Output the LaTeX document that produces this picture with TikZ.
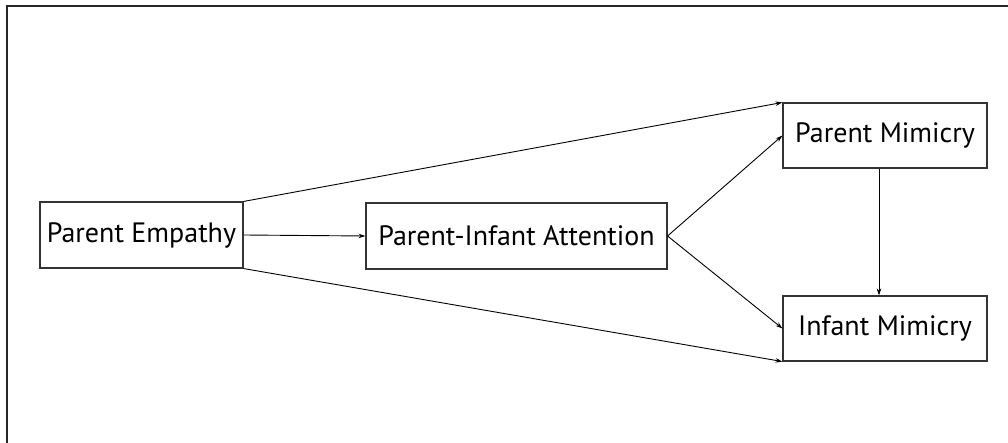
\documentclass[tikz,border=0pt]{standalone}
\usepackage{fontspec}
\setmainfont{PT Sans}
\usetikzlibrary{arrows.meta}
\begin{document}
\begin{tikzpicture}[x=1pt,y=-1pt,
  box/.style={draw=black!80, line width=1.1pt, rectangle, inner sep=0pt, font=\fontsize{28}{32}\selectfont},
  conn/.style={draw=black, line width=0.9pt, -{Stealth[length=7pt,width=4.5pt]}}]
\useasboundingbox (0,0) rectangle (1008,443);
\coordinate (tl) at (7,6);
\coordinate (tr) at (1008,6);
\coordinate (bl) at (7,443);
\draw[line width=1.5pt, black!85] (tr) -- (tl) -- (bl);
\node[box, minimum width=203pt, minimum height=66pt] (pe) at (141.5,235) {Parent Empathy};
\node[box, minimum width=301pt, minimum height=66pt] (pia) at (516.5,236) {Parent-Infant Attention};
\node[box, minimum width=204pt, minimum height=65pt] (pm) at (885,135.5) {Parent Mimicry};
\node[box, minimum width=204pt, minimum height=65pt] (im) at (885,328.5) {Infant Mimicry};
\draw[conn] (pe.north east) -- (pm.north west);
\draw[conn] (pe.south east) -- (im.south west);
\draw[conn] (pe.east) -- (pia.west);
\draw[conn] (pia.east) -- (pm.west);
\draw[conn] (pia.east) -- (im.west);
\draw[conn] ([xshift=-6pt]pm.south) -- ([xshift=-6pt]im.north);
\end{tikzpicture}
\end{document}
